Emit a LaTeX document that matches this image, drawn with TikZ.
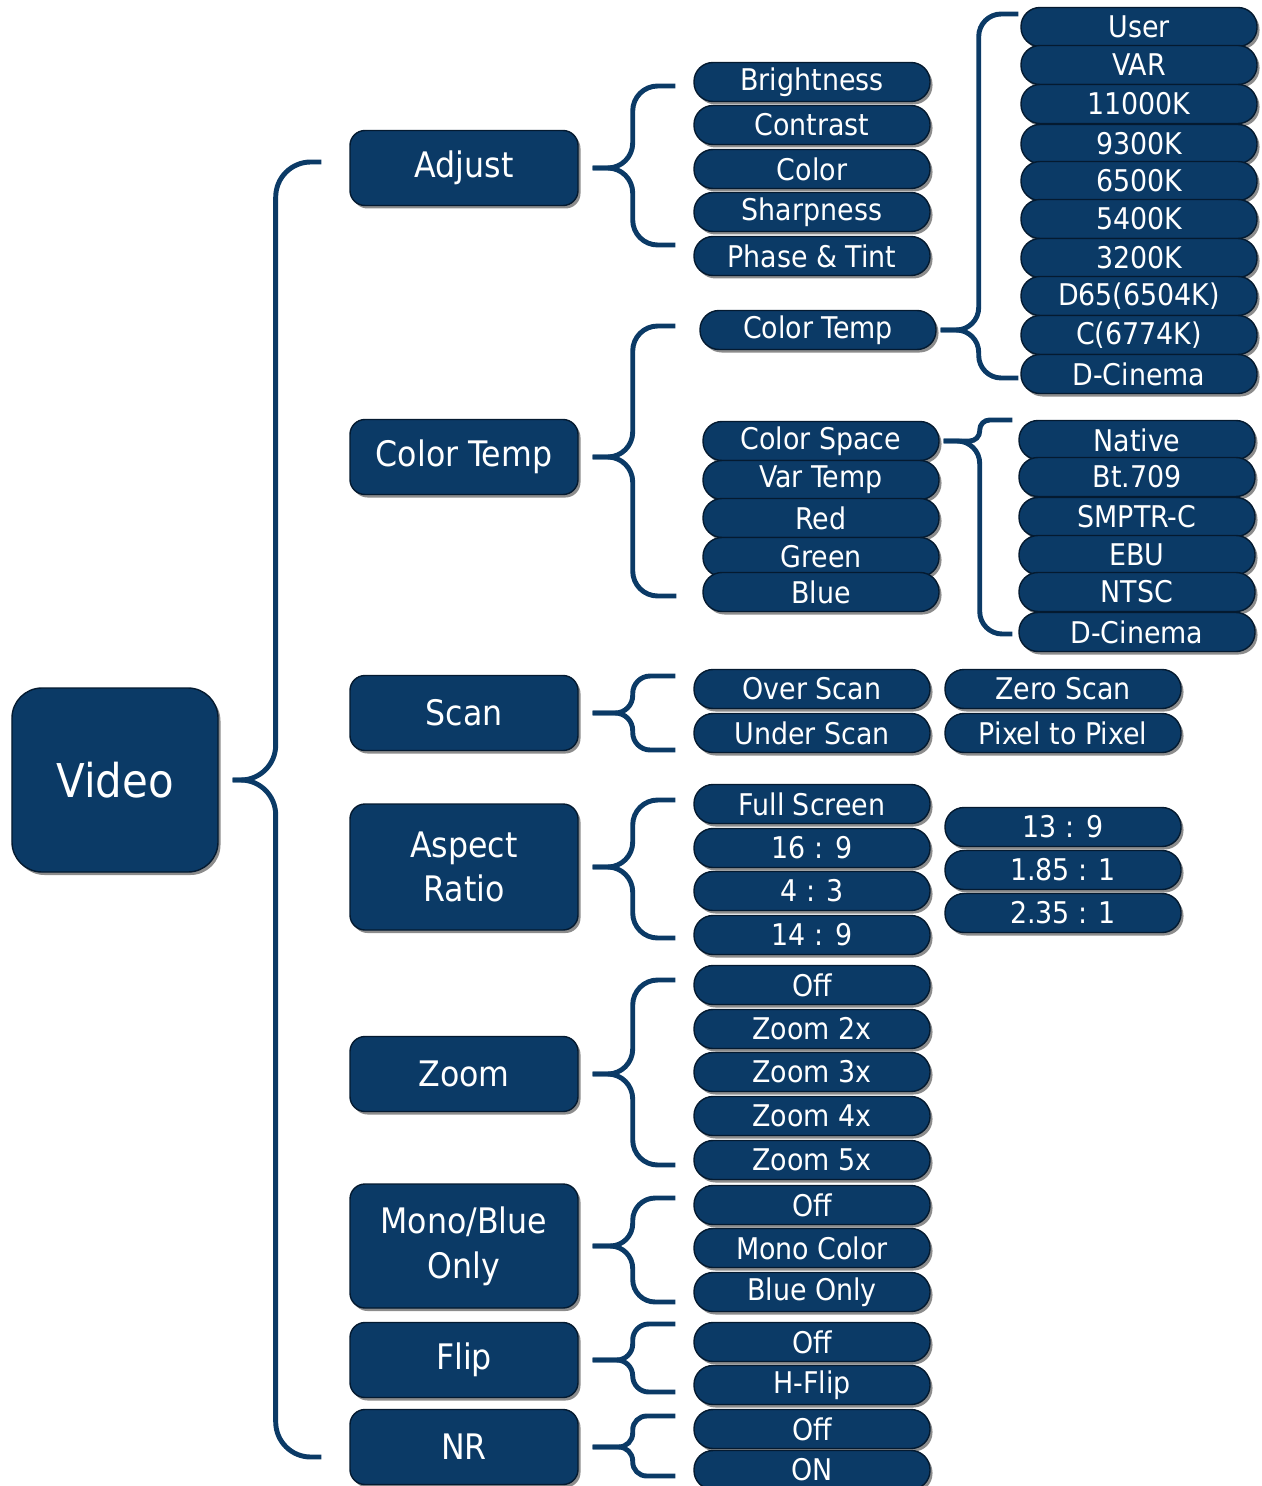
\documentclass[tikz,border=0pt]{standalone}
\usepackage{fontspec}
\setmainfont{DejaVu Sans Condensed}
\usetikzlibrary{shadows}

\definecolor{menublue}{RGB}{11,58,102}
\definecolor{menuedge}{RGB}{4,26,48}

\tikzstyle{menubox} = [draw=menuedge, fill=menublue, rectangle, text=white,
    line width=0.8pt, drop shadow={shadow xshift=0.5mm, shadow yshift=-0.6mm, opacity=0.45, fill=black}]
\tikzstyle{root} = [menubox, rounded corners=6mm, minimum width=41.2mm,
    minimum height=36.8mm, font=\fontsize{26.5}{30}\selectfont]
\tikzstyle{group} = [menubox, rounded corners=3mm, minimum width=45.6mm,
    minimum height=15mm, align=center, font=\fontsize{20}{25.5}\selectfont]
\tikzstyle{item} = [menubox, rounded corners=3.8mm, minimum width=47.2mm,
    minimum height=7.8mm, inner sep=0pt, font=\fontsize{17}{20}\selectfont]
\tikzstyle{brace} = [draw=menublue, line width=2.8pt]

% one arm of a curly brace: radius, tip, stem offset, end
\newcommand{\arm}[4][5mm]{\draw[brace, rounded corners=#1] (#4) -| ([xshift=#3]#2) -- (#2);}

\begin{document}
\begin{tikzpicture}[x=0.2mm, y=-0.2mm]
    \useasboundingbox (0,0) rectangle (1262,1486);

    % root and menu groups
    \node[root] (video) at (115,780) {Video};
    \node[group] (adjust) at (464,168) {Adjust};
    \node[group] (ctemp) at (464,457) {Color Temp};
    \node[group] (scan) at (464,713) {Scan};
    \node[group, minimum height=25.2mm] (aspect) at (464,867) {Aspect\\Ratio};
    \node[group] (zoom) at (464,1074) {Zoom};
    \node[group, minimum height=24.8mm] (mono) at (464,1246) {Mono/Blue\\Only};
    \node[group] (flip) at (464,1360) {Flip};
    \node[group] (nr) at (464,1447) {NR};

    % adjust
    \node[item] (bright) at (812,82) {Brightness};
    \node[item] (contrast) at (812,125) {Contrast};
    \node[item] (color) at (812,169) {Color};
    \node[item] (sharp) at (812,212) {Sharpness};
    \node[item] (phase) at (812,256) {Phase \& Tint};

    % color temp
    \node[item] (ctpill) at (818,330) {Color Temp};
    \node[item] (cspace) at (821,441) {Color Space};
    \node[item] (vartemp) at (821,480) {Var Temp};
    \node[item] (red) at (821,518) {Red};
    \node[item] (green) at (821,557) {Green};
    \node[item] (blue) at (821,592) {Blue};

    \node[item] (user) at (1139,27) {User};
    \node[item] (var) at (1139,65) {VAR};
    \node[item] (k11000) at (1139,104) {11000K};
    \node[item] (k9300) at (1139,144) {9300K};
    \node[item] (k6500) at (1139,181) {6500K};
    \node[item] (k5400) at (1139,219) {5400K};
    \node[item] (k3200) at (1139,258) {3200K};
    \node[item] (d65) at (1139,296) {D65(6504K)};
    \node[item] (c6774) at (1139,335) {C(6774K)};
    \node[item] (dcinA) at (1139,374) {D-Cinema};

    \node[item] (native) at (1137,440) {Native};
    \node[item] (bt709) at (1137,477) {Bt.709};
    \node[item] (smptr) at (1137,517) {SMPTR-C};
    \node[item] (ebu) at (1137,555) {EBU};
    \node[item] (ntsc) at (1137,592) {NTSC};
    \node[item] (dcinB) at (1137,632) {D-Cinema};

    % scan
    \node[item] (over) at (812,689) {Over Scan};
    \node[item] (under) at (812,733) {Under Scan};
    \node[item] (zero) at (1063,689) {Zero Scan};
    \node[item] (pixel) at (1063,733) {Pixel to Pixel};

    % aspect ratio
    \node[item] (full) at (812,804) {Full Screen};
    \node[item] (r169) at (812,848) {16 : 9};
    \node[item] (r43) at (812,891) {4 : 3};
    \node[item] (r149) at (812,935) {14 : 9};
    \node[item] (r139) at (1063,827) {13 : 9};
    \node[item] (r1851) at (1063,870) {1.85 : 1};
    \node[item] (r2351) at (1063,913) {2.35 : 1};

    % zoom
    \node[item] (zoff) at (812,985) {Off};
    \node[item] (z2) at (812,1029) {Zoom 2x};
    \node[item] (z3) at (812,1072) {Zoom 3x};
    \node[item] (z4) at (812,1116) {Zoom 4x};
    \node[item] (z5) at (812,1160) {Zoom 5x};

    % mono, flip, nr
    \node[item] (moff) at (812,1205) {Off};
    \node[item] (monoc) at (812,1248) {Mono Color};
    \node[item] (blueonly) at (812,1292) {Blue Only};
    \node[item] (foff) at (812,1342) {Off};
    \node[item] (hflip) at (812,1385) {H-Flip};
    \node[item] (nroff) at (812,1429) {Off};
    \node[item] (nron) at (812,1470) {ON};

    % brace tips
    \coordinate (video-tip) at ([xshift=2.8mm]video.east);
    \coordinate (adjust-tip) at ([xshift=2.8mm]adjust.east);
    \coordinate (ctemp-tip) at ([xshift=2.8mm]ctemp.east);
    \coordinate (scan-tip) at ([xshift=2.8mm]scan.east);
    \coordinate (aspect-tip) at ([xshift=2.8mm]aspect.east);
    \coordinate (zoom-tip) at ([xshift=2.8mm]zoom.east);
    \coordinate (mono-tip) at ([xshift=2.8mm]mono.east);
    \coordinate (flip-tip) at ([xshift=2.8mm]flip.east);
    \coordinate (nr-tip) at ([xshift=2.8mm]nr.east);
    \coordinate (ctpill-tip) at ([xshift=0.8mm]ctpill.east);
    \coordinate (cspace-tip) at ([xshift=0.8mm]cspace.east);

    % braces
    \begin{scope}[line width=3.4pt]
    \arm[7mm]{video-tip}{8.6mm}{[shift={(-28,-6)}]adjust.west}
    \arm[7mm]{video-tip}{8.6mm}{[shift={(-28,10)}]nr.west}
    \end{scope}
    \arm{adjust-tip}{8mm}{[shift={(-18,4)}]bright.west}
    \arm{adjust-tip}{8mm}{[shift={(-18,-11)}]phase.west}
    \arm{ctemp-tip}{8mm}{[shift={(-24,-4)}]ctpill.west}
    \arm{ctemp-tip}{8mm}{[shift={(-26,4)}]blue.west}
    \arm[3.5mm]{scan-tip}{8mm}{[shift={(-18,-13)}]over.west}
    \arm[3.5mm]{scan-tip}{8mm}{[shift={(-18,17)}]under.west}
    \arm{aspect-tip}{8mm}{[shift={(-18,-4)}]full.west}
    \arm{aspect-tip}{8mm}{[shift={(-18,3)}]r149.west}
    \arm{zoom-tip}{8mm}{[shift={(-18,-5)}]zoff.west}
    \arm{zoom-tip}{8mm}{[shift={(-18,5)}]z5.west}
    \arm[4.5mm]{mono-tip}{8mm}{[shift={(-18,-7)}]moff.west}
    \arm[4.5mm]{mono-tip}{8mm}{[shift={(-18,10)}]blueonly.west}
    \arm[3.2mm]{flip-tip}{8mm}{[shift={(-18,-18)}]foff.west}
    \arm[3.2mm]{flip-tip}{8mm}{[shift={(-18,7)}]hflip.west}
    \arm[2.8mm]{nr-tip}{8mm}{[shift={(-18,-13)}]nroff.west}
    \arm[2.8mm]{nr-tip}{8mm}{[shift={(-18,6)}]nron.west}
    \arm[4.5mm]{ctpill-tip}{7.6mm}{[shift={(-2,-13)}]user.west}
    \arm[4.5mm]{ctpill-tip}{7.6mm}{[shift={(-2,4)}]dcinA.west}
    \arm[2mm]{cspace-tip}{7.2mm}{[shift={(-6,-20)}]native.west}
    \arm[4.5mm]{cspace-tip}{7.2mm}{[shift={(-6,2)}]dcinB.west}
\end{tikzpicture}
\end{document}
